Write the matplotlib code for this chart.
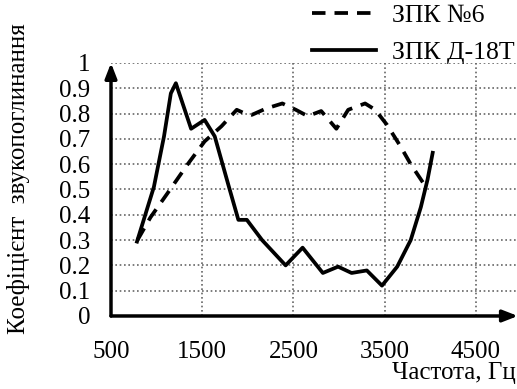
import matplotlib.pyplot as plt

plt.rcParams['font.family'] = ['Liberation Serif', 'DejaVu Serif']

# частота, Гц / коефіцієнт звукопоглинання
f_zpk6 = [790, 933, 1119, 1341, 1526, 1711, 1878, 1970, 2044, 2200, 2378, 2526, 2656, 2804, 2970, 3100, 3285, 3396, 3526, 3674, 3785, 3933]
a_zpk6 = [0.30, 0.39, 0.485, 0.60, 0.69, 0.75, 0.815, 0.80, 0.795, 0.82, 0.84, 0.815, 0.79, 0.81, 0.74, 0.815, 0.84, 0.815, 0.755, 0.67, 0.60, 0.52]

f_d18t = [785, 970, 1081, 1156, 1211, 1285, 1378, 1526, 1637, 1785, 1896, 1989, 2156, 2414, 2600, 2822, 2989, 3137, 3304, 3470, 3637, 3785, 3896, 3970, 4026]
a_d18t = [0.294, 0.51, 0.71, 0.88, 0.92, 0.84, 0.74, 0.775, 0.71, 0.52, 0.38, 0.38, 0.30, 0.20, 0.27, 0.17, 0.195, 0.17, 0.18, 0.12, 0.195, 0.30, 0.43, 0.54, 0.645]

x_ticks = [500, 1500, 2500, 3500, 4500]
y_ticks = [0, 0.1, 0.2, 0.3, 0.4, 0.5, 0.6, 0.7, 0.8, 0.9, 1]
y_labels = ['0', '0.1', '0.2', '0.3', '0.4', '0.5', '0.6', '0.7', '0.8', '0.9', '1']

fig = plt.figure(figsize=(5.17, 3.89), dpi=100)
ax = fig.add_axes([0.2147, 0.1877, 0.7853, 0.6504])

ax.plot(f_zpk6, a_zpk6, color='black', lw=2.7, linestyle=(0, (3.6, 2.4)), label='ЗПК №6')
ax.plot(f_d18t, a_d18t, color='black', lw=2.7, solid_joinstyle='round', label='ЗПК Д-18Т')

ax.set_xlim(500, 4950)
ax.set_ylim(0, 1)
ax.set_xticks(x_ticks)
ax.set_yticks(y_ticks)
ax.set_yticklabels(y_labels)
ax.tick_params(length=0, labelsize=18)
ax.tick_params(axis='y', pad=15)
ax.tick_params(axis='x', pad=18)
for s in ax.spines.values():
    s.set_visible(False)
grid_style = dict(color='#666666', linestyle=(0, (1, 1.6)), lw=1.2)
for yv in y_ticks[1:]:
    ax.axhline(yv, **grid_style, zorder=0)
for xv in x_ticks[1:]:
    ax.axvline(xv, **grid_style, zorder=0)

# осі зі стрілками
ax.annotate('', xy=(500, 1.0), xytext=(500, 0), annotation_clip=False,
            arrowprops=dict(arrowstyle='-|>,head_length=0.9,head_width=0.35', color='black', lw=2.5, shrinkA=0, shrinkB=0))
ax.annotate('', xy=(4960, 0), xytext=(500, 0), annotation_clip=False,
            arrowprops=dict(arrowstyle='-|>,head_length=0.9,head_width=0.35', color='black', lw=2.5, shrinkA=0, shrinkB=0))

fig.text(0.036, 0.54, 'Коефіцієнт  звукопоглинання', rotation=90, fontsize=18, ha='center', va='center')
fig.text(0.997, 0.012, 'Частота, Гц', fontsize=18, ha='right', va='bottom')

fig.legend(loc='upper right', bbox_to_anchor=(1.025, 1.03), frameon=False, fontsize=18.5,
           handlelength=2.5, handletextpad=0.6, labelspacing=0.55, borderaxespad=0.2)

fig.savefig('out.png', dpi=100)
